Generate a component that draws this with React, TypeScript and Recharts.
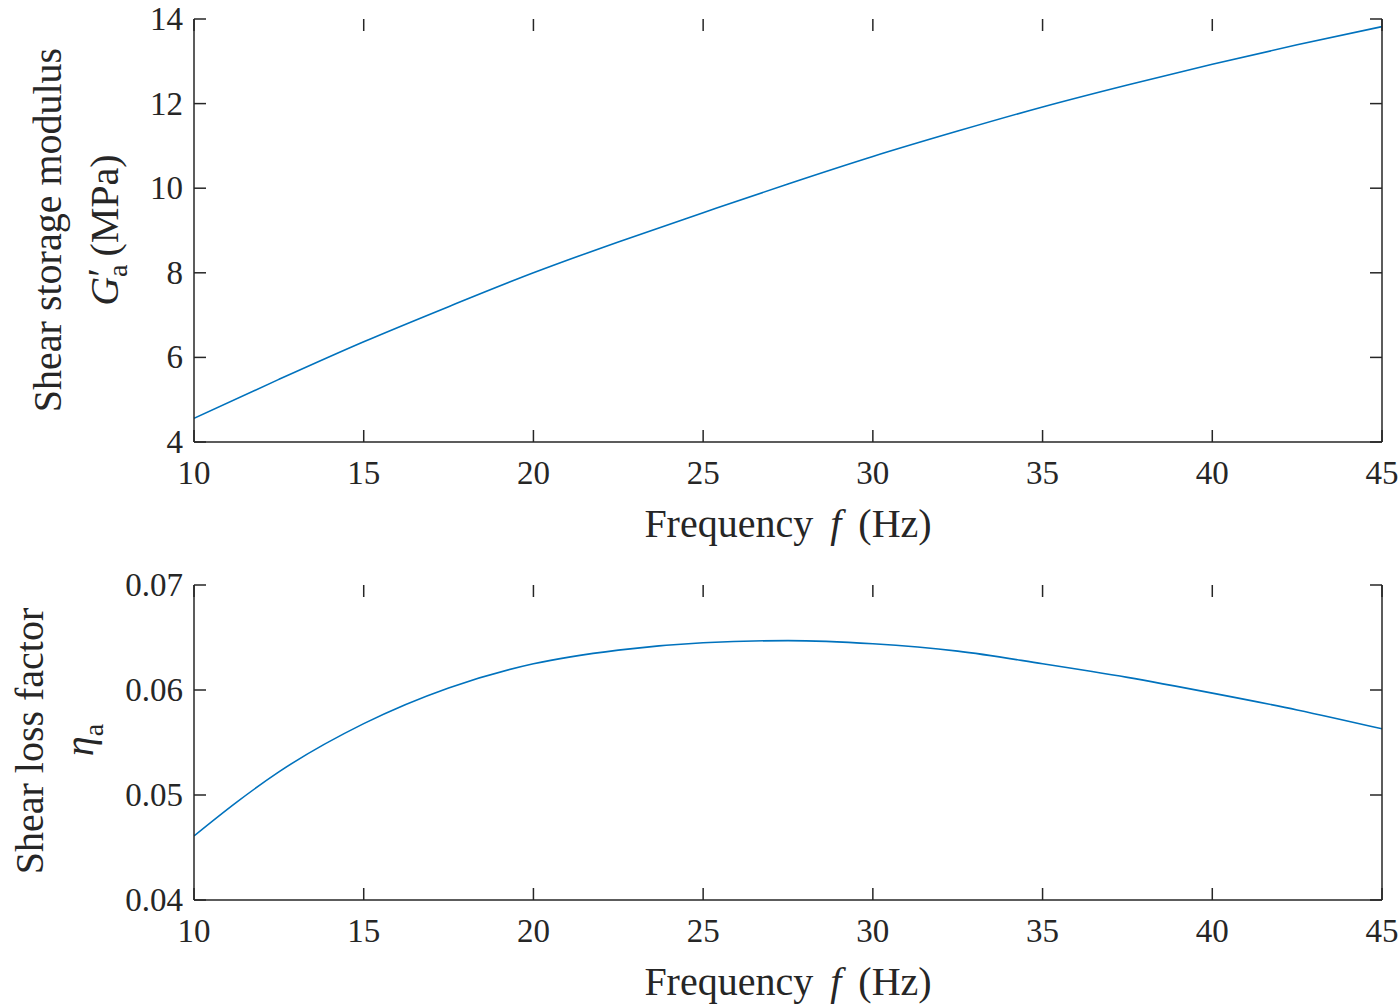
import { LineChart, Line, XAxis, YAxis } from 'recharts'

// values
const storageFreq = [10, 12.5, 15, 17.5, 20, 22.5, 25, 27.5, 30, 32.5, 35, 37.5, 40, 42.5, 45]
const storageModulus = [4.56, 5.48, 6.37, 7.2, 8.0, 8.73, 9.42, 10.1, 10.75, 11.35, 11.92, 12.44, 12.93, 13.39, 13.82]
const lossFreq = [10, 11.25, 12.5, 15, 17.5, 20, 22.5, 25, 27.5, 30, 32.5, 35, 37.5, 40, 42.5, 45]
const lossFactor = [0.0461, 0.0493, 0.0522, 0.0568, 0.0602, 0.0625, 0.0638, 0.0645, 0.0647, 0.0644, 0.0637, 0.0625, 0.0612, 0.0597, 0.0581, 0.0563]
const freqTicks = [10, 15, 20, 25, 30, 35, 40, 45]
const storageTicks = [4, 6, 8, 10, 12, 14]
const lossTicks = [0.04, 0.05, 0.06, 0.07]

const storageData = storageFreq.map((f, i) => ({ f, g: storageModulus[i] }))
const lossData = lossFreq.map((f, i) => ({ f, eta: lossFactor[i] }))

const SERIF = '"Liberation Serif", "Times New Roman", serif'
const INK = '#262626'
const BLUE = '#0072BD'
const TICK_LEN = 12
const PL = 194
const PR = 1382

// MATLAB-style inward ticks on all four sides, drawn by the bottom / left ticks
const xTick = (plotTop: number) => (p: any) => (
  <g>
    <line x1={p.x} y1={p.y} x2={p.x} y2={p.y - TICK_LEN} stroke={INK} strokeWidth={1.5} />
    <line x1={p.x} y1={plotTop} x2={p.x} y2={plotTop + TICK_LEN} stroke={INK} strokeWidth={1.5} />
    <text x={p.x} y={p.y + 31} textAnchor="middle" dominantBaseline="central" fontFamily={SERIF} fontSize={33} fill={INK}>
      {p.payload.value}
    </text>
  </g>
)
const yTick = (fmt: (v: number) => string) => (p: any) => (
  <g>
    <line x1={p.x} y1={p.y} x2={p.x + TICK_LEN} y2={p.y} stroke={INK} strokeWidth={1.5} />
    <line x1={PR} y1={p.y} x2={PR - TICK_LEN} y2={p.y} stroke={INK} strokeWidth={1.5} />
    <text x={p.x - 11} y={p.y} textAnchor="end" dominantBaseline="central" fontFamily={SERIF} fontSize={33} fill={INK}>
      {fmt(p.payload.value)}
    </text>
  </g>
)

const FreqTitle = ({ baseY }: any) => (
  <text x={(PL + PR) / 2} y={baseY} textAnchor="middle" fontFamily={SERIF} fontSize={40} fill={INK}>
    Frequency
    <tspan dx={17} fontStyle="italic">f</tspan>
    <tspan dx={17}>(Hz)</tspan>
  </text>
)

const StorageTitle = () => (
  <g fontFamily={SERIF} fontSize={40} fill={INK}>
    <text x={61} y={230} transform="rotate(-90 61 230)" textAnchor="middle">Shear storage modulus</text>
    <text x={118} y={230} transform="rotate(-90 118 230)" textAnchor="middle">
      <tspan fontStyle="italic">G</tspan>
      <tspan dy={-3}>′</tspan>
      <tspan dx={-9} dy={12} fontSize={28}>a</tspan>
      <tspan dx={8} dy={-9}>(MPa)</tspan>
    </text>
  </g>
)

const LossTitle = () => (
  <g fontFamily={SERIF} fontSize={40} fill={INK}>
    <text x={43} y={181} transform="rotate(-90 43 181)" textAnchor="middle">Shear loss factor</text>
    <text x={93} y={180} transform="rotate(-90 93 180)" textAnchor="middle">
      <tspan fontStyle="italic">η</tspan>
      <tspan dy={10} fontSize={28}>a</tspan>
    </text>
  </g>
)

const axisLine = { stroke: INK, strokeWidth: 1.5 }

export default function App() {
  return (
    <div style={{ position: 'absolute', left: 0, top: 0, width: 1400, height: 1007, background: '#fff' }}>
      <div style={{ position: 'absolute', left: 0, top: 0 }}>
        <LineChart width={1400} height={560} data={storageData} margin={{ top: 19, right: 0, left: 0, bottom: 0 }}>
          <XAxis xAxisId="b" dataKey="f" type="number" domain={[10, 45]} ticks={freqTicks} interval={0}
            height={118} tickSize={0} tickMargin={0} tickLine={false} axisLine={axisLine}
            tick={xTick(19)} label={<FreqTitle baseY={537} />} allowDataOverflow />
          <XAxis xAxisId="t" orientation="top" dataKey="f" type="number" domain={[10, 45]}
            height={0} tick={false} tickLine={false} axisLine={axisLine} allowDataOverflow />
          <YAxis yAxisId="l" type="number" domain={[4, 14]} ticks={storageTicks} interval={0} width={194}
            tickSize={0} tickMargin={0} tickLine={false} axisLine={axisLine}
            tick={yTick((v) => String(v))} label={<StorageTitle />} allowDataOverflow />
          <YAxis yAxisId="r" orientation="right" type="number" domain={[4, 14]} width={18}
            tick={false} tickLine={false} axisLine={axisLine} allowDataOverflow />
          <Line xAxisId="b" yAxisId="l" type="monotone" dataKey="g" stroke={BLUE} strokeWidth={1.6} dot={false} isAnimationActive={false} />
        </LineChart>
      </div>
      <div style={{ position: 'absolute', left: 0, top: 560 }}>
        <LineChart width={1400} height={447} data={lossData} margin={{ top: 25, right: 0, left: 0, bottom: 0 }}>
          <XAxis xAxisId="b" dataKey="f" type="number" domain={[10, 45]} ticks={freqTicks} interval={0}
            height={107} tickSize={0} tickMargin={0} tickLine={false} axisLine={axisLine}
            tick={xTick(25)} label={<FreqTitle baseY={435} />} allowDataOverflow />
          <XAxis xAxisId="t" orientation="top" dataKey="f" type="number" domain={[10, 45]}
            height={0} tick={false} tickLine={false} axisLine={axisLine} allowDataOverflow />
          <YAxis yAxisId="l" type="number" domain={[0.04, 0.07]} ticks={lossTicks} interval={0} width={194}
            tickSize={0} tickMargin={0} tickLine={false} axisLine={axisLine}
            tick={yTick((v) => v.toFixed(2))} label={<LossTitle />} allowDataOverflow />
          <YAxis yAxisId="r" orientation="right" type="number" domain={[0.04, 0.07]} width={18}
            tick={false} tickLine={false} axisLine={axisLine} allowDataOverflow />
          <Line xAxisId="b" yAxisId="l" type="monotone" dataKey="eta" stroke={BLUE} strokeWidth={1.6} dot={false} isAnimationActive={false} />
        </LineChart>
      </div>
    </div>
  )
}
